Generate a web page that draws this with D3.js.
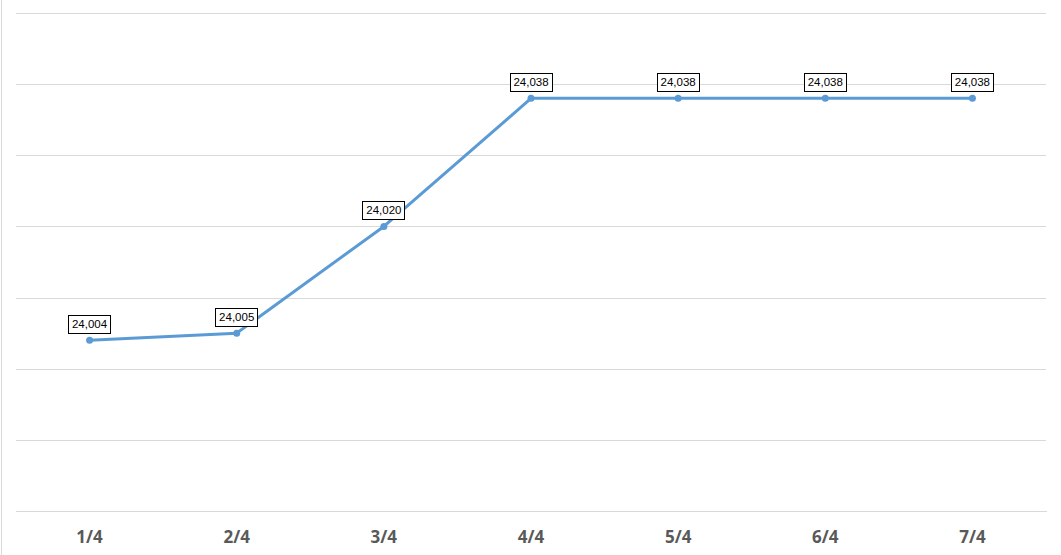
<!DOCTYPE html>
<html>
<head>
<meta charset="utf-8">
<script src="https://cdn.jsdelivr.net/npm/d3@7"></script>
<style>
  html, body { margin: 0; padding: 0; background: #fff; }
  svg { display: block; }
</style>
</head>
<body>
<svg id="chart" width="1061" height="555"></svg>
<script>
const categories = ["1/4", "2/4", "3/4", "4/4", "5/4", "6/4", "7/4"];
const values = [24004, 24005, 24020, 24038, 24038, 24038, 24038];
const yTicks = [23980, 23990, 24000, 24010, 24020, 24030, 24040, 24050];

(function () {
const svg = d3.select("#chart");
const mLeft = 16, mRight = 1046, mTop = 13, mBottom = 511;

const x = d3.scaleBand().domain(categories).range([mLeft, mRight]).padding(0);
const y = d3.scaleLinear().domain([23980, 24050]).range([mBottom, mTop]);

// faint left edge artifact line
svg.append("line").attr("x1", 1.5).attr("x2", 1.5).attr("y1", 0).attr("y2", 555)
  .attr("stroke", "#d9d9d9").attr("stroke-width", 1);

// gridlines
const yAxis = d3.axisLeft(y).tickValues(yTicks).tickSize(-(mRight - mLeft)).tickFormat("");
const gy = svg.append("g").attr("transform", `translate(${mLeft},0)`).call(yAxis);
gy.select(".domain").remove();
gy.selectAll(".tick line").attr("stroke", "#d9d9d9").attr("stroke-width", 1)
  .attr("shape-rendering", "crispEdges");

// x axis
const xAxis = d3.axisBottom(x).tickSize(0).tickPadding(0);
const gx = svg.append("g").attr("transform", `translate(0,${mBottom})`).call(xAxis);
gx.select(".domain").attr("stroke", "#d9d9d9").attr("shape-rendering", "crispEdges");
gx.selectAll(".tick text")
  .attr("dy", "0")
  .attr("y", 32)
  .attr("fill", "#595959")
  .style("font-family", "'Open Sans', 'Liberation Sans', sans-serif")
  .style("font-weight", "bold")
  .style("font-size", "17px");

const cx = d => x(d) + x.bandwidth() / 2;
const data = categories.map((c, i) => ({ c, v: values[i] }));

// line
svg.append("path").datum(data)
  .attr("fill", "none")
  .attr("stroke", "#5B9BD5")
  .attr("stroke-width", 3)
  .attr("stroke-linejoin", "round")
  .attr("d", d3.line().x(d => cx(d.c)).y(d => y(d.v)));

// markers
svg.selectAll("circle.pt").data(data).enter().append("circle")
  .attr("class", "pt")
  .attr("cx", d => cx(d.c)).attr("cy", d => y(d.v)).attr("r", 3.5)
  .attr("fill", "#5B9BD5");

// data labels
const fmt = d3.format(",");
const lbl = svg.selectAll("g.lbl").data(data).enter().append("g").attr("class", "lbl")
  .attr("transform", d => `translate(${cx(d.c)},${y(d.v) - 16})`);
lbl.append("rect")
  .attr("x", -21).attr("y", -9).attr("width", 42).attr("height", 18)
  .attr("fill", "#fff").attr("stroke", "#000").attr("stroke-width", 1)
  .attr("shape-rendering", "crispEdges");
lbl.append("text")
  .attr("text-anchor", "middle").attr("dy", "0.35em")
  .attr("fill", "#000")
  .style("font-family", "'Liberation Sans', 'Open Sans', sans-serif")
  .style("font-size", "11.5px")
  .text(d => fmt(d.v));
})();
</script>
</body>
</html>
